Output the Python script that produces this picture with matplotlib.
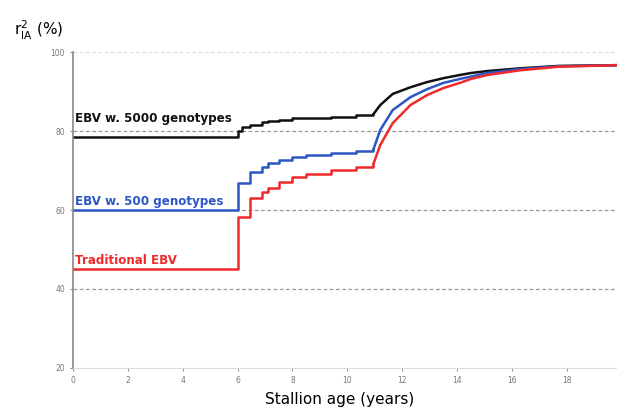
import matplotlib.pyplot as plt

# edades (años) de la parte escalonada y de la parte curva
edad_escalon = [0, 6.0, 6.15, 6.45, 6.9, 7.1, 7.5, 8.0, 8.5, 9.4, 10.3, 10.95]
edad_curva = [10.95, 11.2, 11.65, 12.3, 12.9, 13.5, 14.1, 14.5, 15.1, 16.3, 17.7, 19.9]

# r2 (%) por serie
ebv_5000_escalon = [78.5, 80.0, 81.0, 81.5, 82.3, 82.5, 82.8, 83.2, 83.4, 83.6, 84.0, 84.3]
ebv_500_escalon = [60.0, 66.8, 66.8, 69.6, 70.9, 71.9, 72.7, 73.5, 74.0, 74.5, 75.0, 75.4]
trad_escalon = [45.0, 58.2, 58.2, 63.0, 64.5, 65.5, 67.0, 68.3, 69.2, 70.2, 71.0, 71.7]

ebv_5000_curva = [84.3, 86.6, 89.4, 91.1, 92.4, 93.4, 94.2, 94.7, 95.2, 95.9, 96.5, 96.7]
ebv_500_curva = [75.4, 80.3, 85.3, 88.6, 90.6, 92.2, 93.2, 93.8, 94.7, 95.7, 96.4, 96.7]
trad_curva = [71.7, 76.5, 82.0, 86.6, 89.1, 90.9, 92.2, 93.2, 94.2, 95.4, 96.3, 96.7]

etiquetas = ['EBV w. 5000 genotypes', 'EBV w. 500 genotypes', 'Traditional EBV']
colores = ['#111111', '#2b57c4', '#f02a2a']
yticks = [20, 40, 60, 80, 100]
xticks = list(range(0, 19, 2))

fig = plt.figure(figsize=(6.17, 4.07), dpi=100)
ax = fig.add_axes([0.118, 0.096, 0.882, 0.776])

for y in [40, 60, 80, 100]:
    ax.axhline(y, color='#999999' if y < 100 else '#dddddd', lw=0.9, ls=(0, (3, 2)), zorder=0)

series = [(ebv_5000_escalon, ebv_5000_curva), (ebv_500_escalon, ebv_500_curva),
          (trad_escalon, trad_curva)]
for (esc, cur), c in zip(series, colores):
    ax.plot(edad_escalon, esc, drawstyle='steps-post', color=c, lw=1.8)
    ax.plot(edad_curva, cur, color=c, lw=1.8)

# etiquetas dentro del gráfico
ax.text(0.07, 82.2, etiquetas[0], color=colores[0], fontsize=8.6, fontweight='bold', va='baseline')
ax.text(0.07, 60.6, etiquetas[1], color=colores[1], fontsize=8.6, fontweight='bold', va='bottom')
ax.text(0.07, 45.6, etiquetas[2], color=colores[2], fontsize=8.6, fontweight='bold', va='bottom')

ax.set_xlim(0, 19.82)
ax.set_ylim(20, 100)
ax.set_xticks(xticks)
ax.set_yticks(yticks)
ax.tick_params(labelsize=5.5, colors='#777777', length=2, width=0.6)
for s in ['top', 'right']:
    ax.spines[s].set_visible(False)
ax.spines['left'].set_color('#888888')
ax.spines['left'].set_linewidth(1.2)
ax.spines['bottom'].set_color('#dddddd')

fig.text(0.022, 0.925, r'r$^2_{\mathrm{IA}}$ (%)', fontsize=11, va='center')
fig.text(0.55, 0.018, 'Stallion age (years)', fontsize=11, ha='center', va='center')

fig.savefig('out.png', dpi=100)
